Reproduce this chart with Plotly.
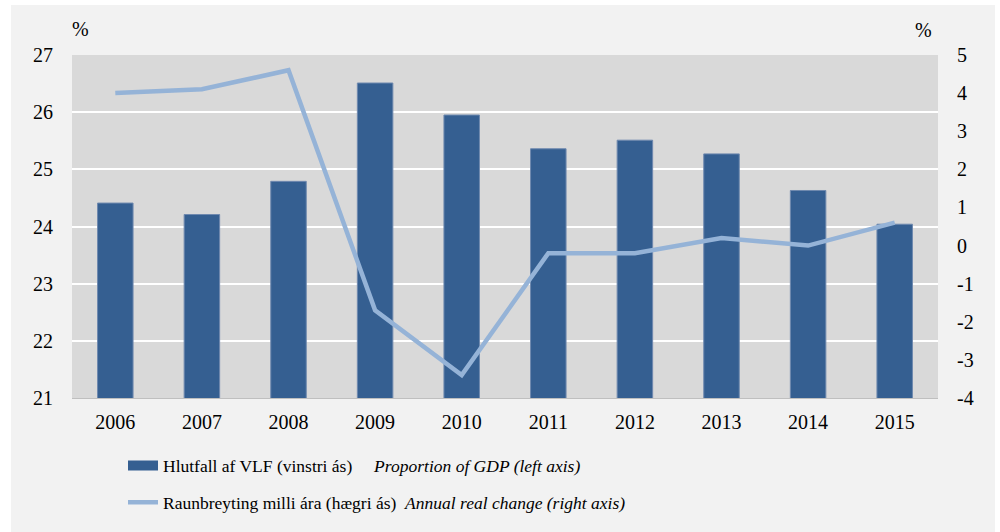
import plotly.graph_objects as go

years = ["2006", "2007", "2008", "2009", "2010", "2011", "2012", "2013", "2014", "2015"]
share_gdp = [24.41, 24.21, 24.79, 26.51, 25.95, 25.36, 25.51, 25.27, 24.63, 24.04]
real_change = [4.0, 4.1, 4.6, -1.7, -3.4, -0.2, -0.2, 0.2, 0.0, 0.6]
left_ticks = [21, 22, 23, 24, 25, 26, 27]
right_ticks = [-4, -3, -2, -1, 0, 1, 2, 3, 4, 5]
right_labels = ["-4", "-3", "-2", "-1", "0", "1", "2", "3", "4", "5"]

bar_name = "Hlutfall af VLF (vinstri ás)" + "\u00a0" * 5 + "<i>Proportion of GDP (left axis)</i>"
line_name = "Raunbreyting milli ára (hægri ás)" + "\u00a0" * 2 + "<i>Annual real change (right axis)</i>"

BAR_COLOR = "#355F91"
LINE_COLOR = "#95B3D7"
FONT = "Liberation Serif"

fig = go.Figure()
fig.add_trace(go.Bar(
    x=years, y=share_gdp, width=0.41,
    marker=dict(color=BAR_COLOR, line=dict(color="#6F89AF", width=1)),
    showlegend=False, yaxis="y",
))
fig.add_trace(go.Scatter(
    x=years, y=real_change, mode="lines",
    line=dict(color=LINE_COLOR, width=4.5),
    showlegend=False, yaxis="y2",
))
# legend entries
fig.add_trace(go.Scatter(
    x=[None], y=[None], mode="lines", name=bar_name,
    line=dict(color=BAR_COLOR, width=11), legendgroup="a", yaxis="y",
))
fig.add_trace(go.Scatter(
    x=[None], y=[None], mode="lines", name=line_name,
    line=dict(color=LINE_COLOR, width=4.5), legendgroup="b", yaxis="y2",
))

fig.update_layout(
    width=1000, height=532,
    margin=dict(l=72, r=62, t=55, b=134, autoexpand=False),
    paper_bgcolor="#F2F2F2",
    plot_bgcolor="#D9D9D9",
    font=dict(family=FONT, size=20, color="#000000"),
    xaxis=dict(
        type="category", showgrid=False, showline=True, linecolor="#BFBFBF", linewidth=1,
        ticks="outside", ticklen=6, tickcolor="rgba(0,0,0,0)",
        tickfont=dict(family=FONT, size=20), fixedrange=True,
    ),
    yaxis=dict(
        range=[21, 27], tickvals=left_ticks, showgrid=True, gridcolor="#FFFFFF", gridwidth=2,
        zeroline=False, showline=False,
        ticks="outside", ticklen=14, tickcolor="rgba(0,0,0,0)",
        tickfont=dict(family=FONT, size=20),
    ),
    yaxis2=dict(
        range=[-4, 5], tickvals=right_ticks, ticktext=right_labels,
        overlaying="y", side="right", showgrid=False,
        zeroline=False, showline=False,
        ticks="outside", ticklen=14, tickcolor="rgba(0,0,0,0)",
        tickfont=dict(family=FONT, size=20),
    ),
    legend=dict(
        x=0.0589, y=-0.1444, xanchor="left", yanchor="top",
        bgcolor="rgba(0,0,0,0)", traceorder="grouped", tracegroupgap=11,
        font=dict(family=FONT, size=17.5),
    ),
    annotations=[
        dict(text="%", xref="paper", yref="paper", x=(80 - 72) / 866, y=(398 - 29) / 343,
             showarrow=False, font=dict(family=FONT, size=20), xanchor="center", yanchor="middle"),
        dict(text="%", xref="paper", yref="paper", x=(923 - 72) / 866, y=(398 - 30) / 343,
             showarrow=False, font=dict(family=FONT, size=20), xanchor="center", yanchor="middle"),
    ],
    shapes=[
        dict(type="rect", xref="paper", yref="paper", layer="above",
             x0=(0 - 72) / 866, x1=(11 - 72) / 866, y0=(398 - 532) / 343, y1=(398 - 0) / 343,
             fillcolor="#FFFFFF", line=dict(width=0)),
        dict(type="rect", xref="paper", yref="paper", layer="above",
             x0=(0 - 72) / 866, x1=(1000 - 72) / 866, y0=(398 - 5) / 343, y1=(398 - 0) / 343,
             fillcolor="#FFFFFF", line=dict(width=0)),
        dict(type="rect", xref="paper", yref="paper", layer="above",
             x0=(995 - 72) / 866, x1=(1000 - 72) / 866, y0=(398 - 532) / 343, y1=(398 - 0) / 343,
             fillcolor="#FFFFFF", line=dict(width=0)),
    ],
)

fig.write_html(
    "out.html",
    config={"displayModeBar": False},
    post_script="document.body.style.margin='0';document.body.style.padding='0';",
)
